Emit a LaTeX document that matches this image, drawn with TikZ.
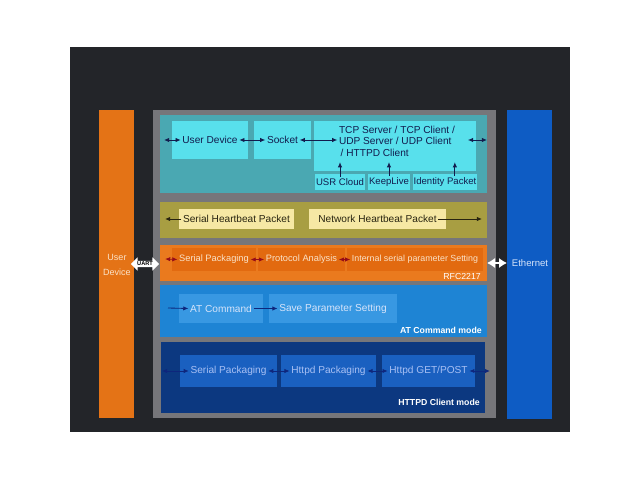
\documentclass[tikz,border=0pt]{standalone}
\usepackage{fontspec}
\setmainfont{Liberation Sans}
\usetikzlibrary{arrows.meta,positioning,fit,shapes.arrows}
\definecolor{bgdark}{RGB}{35,37,41}
\definecolor{framegray}{RGB}{118,118,122}
\definecolor{userorange}{RGB}{228,115,22}
\definecolor{ethblue}{RGB}{14,92,196}
\definecolor{tealband}{RGB}{74,168,178}
\definecolor{cyanbox}{RGB}{88,224,236}
\definecolor{oliveband}{RGB}{168,158,66}
\definecolor{yellowbox}{RGB}{246,232,164}
\definecolor{orangeband}{RGB}{234,122,30}
\definecolor{orangebox}{RGB}{226,106,16}
\definecolor{atband}{RGB}{30,132,212}
\definecolor{atbox}{RGB}{56,152,226}
\definecolor{httpdband}{RGB}{12,56,128}
\definecolor{httpdbox}{RGB}{26,96,192}
\definecolor{navytext}{RGB}{18,28,78}
\definecolor{olivetext}{RGB}{40,36,16}
\definecolor{creamtext}{RGB}{250,226,200}
\definecolor{attext}{RGB}{214,228,250}
\definecolor{httpdtext}{RGB}{168,192,244}
\definecolor{redarrow}{RGB}{150,12,24}
\definecolor{bluearrow}{RGB}{14,38,124}

\begin{document}
\begin{tikzpicture}[
  x=0.025cm, y=-0.025cm,
  band/.style={inner sep=0pt, outer sep=0pt},
  cell/.style={inner sep=0pt, outer sep=0pt},
  txt/.style={inner sep=1pt, font=\fontsize{7.2}{8.2}\selectfont},
  lab/.style={inner sep=0pt, anchor=base east, font=\fontsize{6.2}{7}\selectfont\bfseries, text=white},
  arr/.style={-{Latex[length=1.3mm,width=1.1mm]}, line width=0.6pt},
  darr/.style={{Latex[length=1.3mm,width=1.1mm]}-{Latex[length=1.3mm,width=1.1mm]}, line width=0.6pt},
  uart/.style={double arrow, fill=white, inner sep=0.6pt, minimum height=20pt,
               double arrow head extend=2.6pt, font=\fontsize{4}{4.5}\selectfont\bfseries}
]
\useasboundingbox[fill=white] (0,0) rectangle (640,480);
\fill[bgdark] (70,47) rectangle (570,432);

% side blocks
\node[band, fill=userorange, fit={(99,110)(134,418)}] (userdev) {};
\node[txt, align=center, text=creamtext, font=\fontsize{6.4}{11}\selectfont] (userlab) at (117,265) {User\\Device};
\node[band, fill=ethblue, fit={(507,110)(552,419)}] (eth) {};
\node[txt, text=attext, font=\fontsize{6.8}{8}\selectfont] (ethlab) at (530,263) {Ethernet};
\node[band, fill=framegray, fit={(153,110)(496,418)}] (frame) {};

% network layer
\node[band, fill=tealband, fit={(160,115)(487,193)}] (net) {};
\node[cell, fill=cyanbox, fit={(172,121)(248,159)}] (udevcell) {};
\node[cell, fill=cyanbox, fit={(254,121)(311,159)}] (sockcell) {};
\node[cell, fill=cyanbox, fit={(314,121)(476,171)}] (tcpcell) {};
\node[cell, fill=cyanbox, fit={(315,174)(365,190)}] (usrcell) {};
\node[cell, fill=cyanbox, fit={(368,174)(410,190)}] (keepcell) {};
\node[cell, fill=cyanbox, fit={(413,174)(477,190)}] (identcell) {};
\node[txt, text=navytext] (udev) at (udevcell) {User Device};
\node[txt, text=navytext] (sock) at (sockcell) {Socket};
\node[txt, text=navytext, align=left] (tcp) at (397,141) {TCP Server / TCP Client /\\UDP Server / UDP Client\\\,/ HTTPD Client};
\node[txt, text=navytext, font=\fontsize{6.8}{8}\selectfont] (usr) at (usrcell) {USR Cloud};
\node[txt, text=navytext, font=\fontsize{6.8}{8}\selectfont] (keep) at (keepcell) {KeepLive};
\node[txt, text=navytext, font=\fontsize{6.8}{8}\selectfont] (ident) at (identcell) {Identity Packet};
\coordinate (netL) at (164,140);
\coordinate (netR) at (487,140);
\begin{scope}[draw=navytext]
\draw[darr] (netL) -- (udev.west);
\draw[darr] (udev.east) -- (sock.west);
\draw[darr] (sock.east) -- (tcp.west |- sock.east);
\draw[darr] ([xshift=8pt]tcp.east |- sock.east) -- (netR);
\draw[arr] (usr.north) -- ([yshift=-3pt]usr.north |- tcp.south);
\draw[arr] (keep.north) -- ([yshift=-3pt]keep.north |- tcp.south);
\draw[arr] ([xshift=7pt]ident.north) -- ([xshift=7pt,yshift=-3pt]ident.north |- tcp.south);
\end{scope}

% heartbeat
\node[band, fill=oliveband, fit={(160,202)(487,238)}] (beat) {};
\node[cell, fill=yellowbox, fit={(179,209)(294,229)}] (sbeatcell) {};
\node[cell, fill=yellowbox, fit={(309,209)(446,229)}] (nbeatcell) {};
\node[txt, text=olivetext] (sbeat) at (sbeatcell) {Serial Heartbeat Packet};
\node[txt, text=olivetext] (nbeat) at (nbeatcell) {Network Heartbeat Packet};
\coordinate (beatL) at (165,219);
\coordinate (beatR) at (482,219);
\draw[arr, draw=olivetext] (sbeat.west) -- (beatL);
\draw[arr, draw=olivetext] (nbeat.east) -- (beatR);

% RFC2217
\node[band, fill=orangeband, fit={(160,245)(487,281)}] (rfc) {};
\node[cell, fill=orangebox, fit={(172,248)(256,271)}] (spackcell) {};
\node[cell, fill=orangebox, fit={(258,248)(345,271)}] (protocell) {};
\node[cell, fill=orangebox, fit={(347,248)(483,271)}] (intlcell) {};
\node[txt, text=creamtext, font=\fontsize{6.6}{8}\selectfont] (spack) at (spackcell) {Serial Packaging};
\node[txt, text=creamtext, font=\fontsize{6.6}{8}\selectfont] (proto) at (protocell) {Protocol Analysis};
\node[txt, text=creamtext, font=\fontsize{6.3}{8}\selectfont] (intl) at (intlcell) {Internal serial parameter Setting};
\node[lab, font=\fontsize{6.2}{7}\selectfont] (rfclab) at (481,279) {RFC2217};
\coordinate (rfcL) at (165,259);
\draw[darr, draw=redarrow] (rfcL) -- (spack.west);
\draw[darr, draw=redarrow] (spack.east) -- (proto.west);
\draw[darr, draw=redarrow] (proto.east) -- (intl.west);

% AT command mode
\node[band, fill=atband, fit={(160,285)(487,337)}] (atmode) {};
\node[cell, fill=atbox, fit={(179,294)(263,323)}] (atcmdcell) {};
\node[cell, fill=atbox, fit={(269,294)(397,323)}] (savecell) {};
\node[txt, text=attext] (atcmd) at (atcmdcell) {AT Command};
\node[txt, text=attext] (save) at (savecell) {Save Parameter Setting};
\node[lab] (atlab) at (482,333) {AT Command mode};
\coordinate (atL) at (168,308);
\draw[arr, draw=bluearrow] (atL) -- (atcmd.west);
\draw[arr, draw=bluearrow] (atcmd.east) -- (save.west);

% HTTPD client mode
\node[band, fill=httpdband, fit={(161,342)(485,413)}] (httpd) {};
\node[cell, fill=httpdbox, fit={(180,355)(277,387)}] (hspackcell) {};
\node[cell, fill=httpdbox, fit={(281,355)(376,387)}] (hpackcell) {};
\node[cell, fill=httpdbox, fit={(382,355)(475,387)}] (getcell) {};
\node[txt, text=httpdtext] (hspack) at (hspackcell) {Serial Packaging};
\node[txt, text=httpdtext] (hpack) at (hpackcell) {Httpd Packaging};
\node[txt, text=httpdtext] (get) at (getcell) {Httpd GET/POST};
\node[lab] (httpdlab) at (480,405) {HTTPD Client mode};
\coordinate (httpdL) at (162,371);
\coordinate (httpdR) at (490,371);
\draw[darr, draw=bluearrow] (httpdL) -- (hspack.west);
\draw[darr, draw=bluearrow] (hspack.east) -- (hpack.west);
\draw[darr, draw=bluearrow] (hpack.east) -- (get.west);
\draw[darr, draw=bluearrow] (get.east) -- (httpdR);

% interfaces
\node[uart] (uartlink) at (145,264) {UART};
\draw[white, line width=1.6pt, {Latex[length=2mm,width=2.6mm]}-{Latex[length=2mm,width=2.6mm]}] (rfc.east) -- (eth.west |- rfc.east);
\end{tikzpicture}
\end{document}
